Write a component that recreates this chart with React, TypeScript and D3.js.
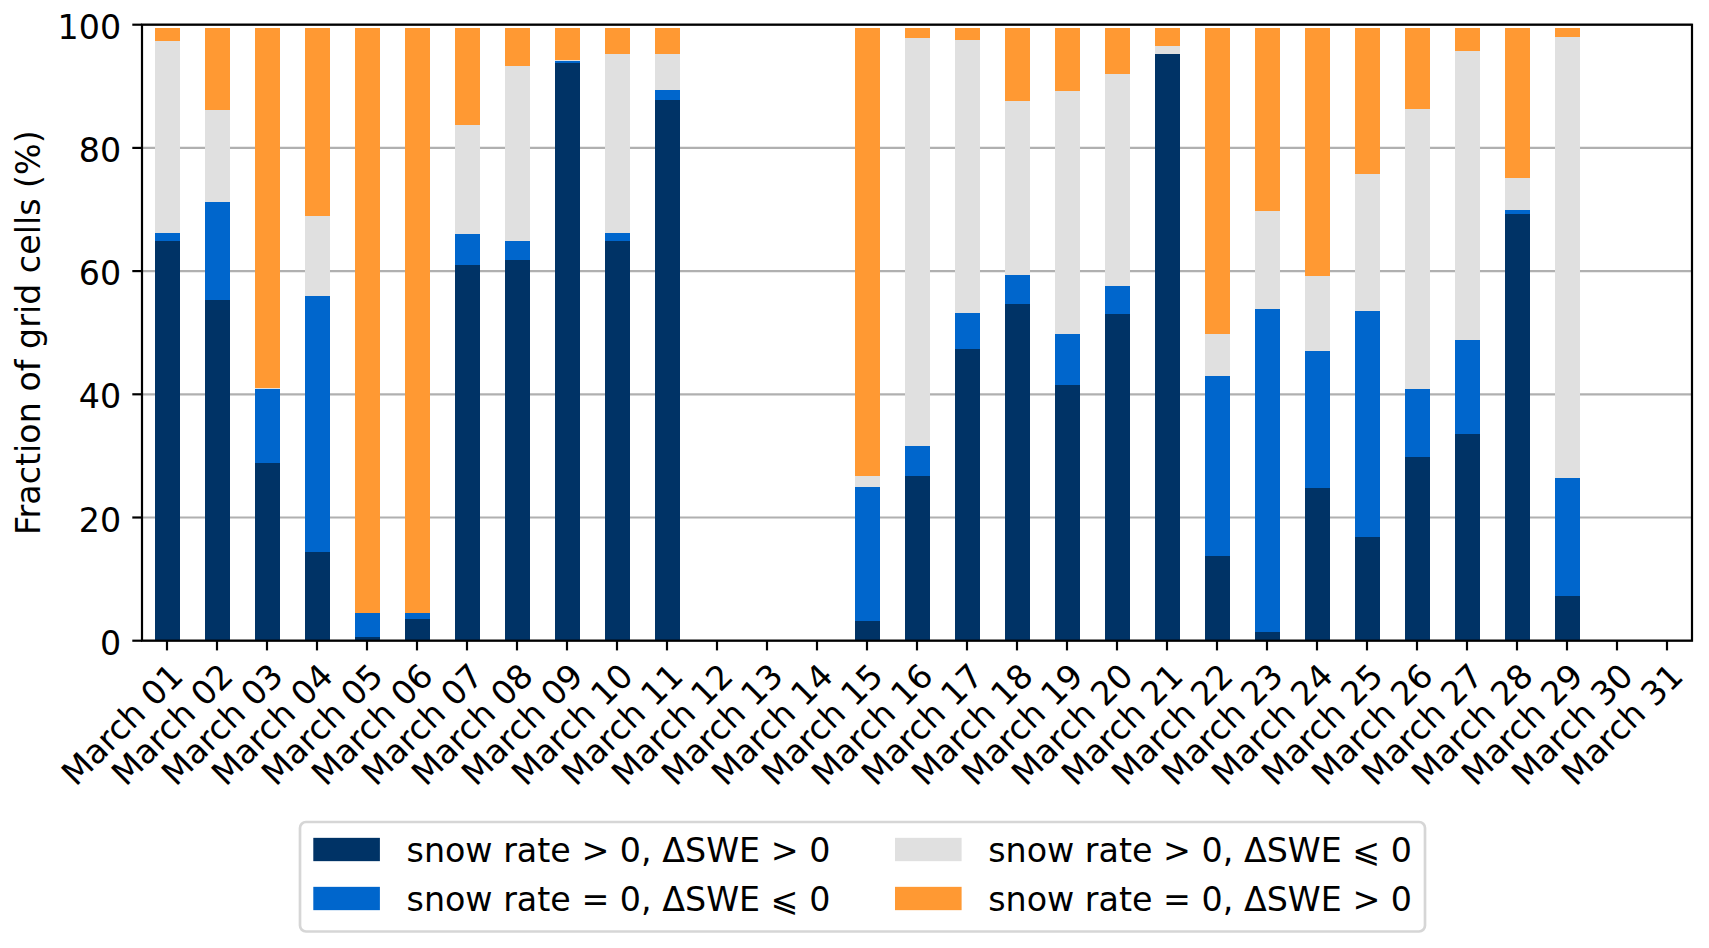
import React from "react";
import * as d3 from "d3";

const days = [
  "March 01", "March 02", "March 03", "March 04", "March 05", "March 06", "March 07", "March 08",
  "March 09", "March 10", "March 11", "March 12", "March 13", "March 14", "March 15", "March 16",
  "March 17", "March 18", "March 19", "March 20", "March 21", "March 22", "March 23", "March 24",
  "March 25", "March 26", "March 27", "March 28", "March 29", "March 30", "March 31",
];

// snow rate > 0, ΔSWE > 0
const snowPosSwePos = [
  64.85, 55.27, 28.79, 14.46, 0.54, 3.57, 60.92, 61.76, 93.83, 64.85, 87.79, null, null, null,
  3.25, 26.67, 47.3, 54.63, 41.45, 52.96, 95.24, 13.82, 1.46, 24.87, 16.9, 29.76, 33.48, 69.22, 7.33,
  null, null,
];
// snow rate = 0, ΔSWE ⩽ 0
const snowZeroSweNeg = [
  1.28, 15.94, 12.02, 41.45, 4.0, 0.86, 5.08, 3.09, 0.26, 1.28, 1.61, null, null, null,
  21.75, 5.01, 5.85, 4.69, 8.42, 4.56, 0.0, 29.11, 52.33, 22.24, 36.57, 11.05, 15.3, 0.64, 19.15,
  null, null,
];
// snow rate > 0, ΔSWE ⩽ 0
const snowPosSweNeg = [
  31.3, 14.91, 0.26, 12.98, 0.0, 0.12, 17.68, 28.47, 0.13, 29.11, 5.84, null, null, null,
  1.67, 66.13, 44.34, 28.28, 39.33, 34.45, 1.29, 6.94, 15.94, 12.02, 22.24, 45.5, 46.91, 5.2, 71.53,
  null, null,
];
// snow rate = 0, ΔSWE > 0
const snowZeroSwePos = [
  2.07, 13.38, 58.43, 30.61, 94.96, 94.95, 15.82, 6.18, 5.28, 4.26, 4.26, null, null, null,
  72.83, 1.69, 2.01, 11.9, 10.3, 7.53, 2.97, 49.63, 29.77, 40.37, 23.79, 13.19, 3.81, 24.44, 1.49,
  null, null,
];

const seriesKeys = ["snowPosSwePos", "snowZeroSweNeg", "snowPosSweNeg", "snowZeroSwePos"];
const seriesLabels = [
  "snow rate > 0, \u0394SWE > 0",
  "snow rate = 0, \u0394SWE \u2A7D 0",
  "snow rate > 0, \u0394SWE \u2A7D 0",
  "snow rate = 0, \u0394SWE > 0",
];
const seriesColors = ["#003366", "#0066cc", "#e0e0e0", "#ff9933"];
const yTicks = [0, 20, 40, 60, 80, 100];
const yLabel = "Fraction of grid cells (%)";

const FONT = "'DejaVu Sans', sans-serif";

export default function App() {
  const W = 1709;
  const H = 948;
  const left = 142;
  const right = 1692;
  const top = 24.7;
  const bottom = 640.7;
  const fs = 33.3;
  const tickLen = 9.7;
  const pad = 9.7;
  const lw = 2.2;

  const x = d3.scaleBand<string>().domain(days).range([left, right]).paddingInner(0.5).paddingOuter(0.25);
  const y = d3.scaleLinear().domain([0, 100]).range([bottom, top]);

  const rows = days.map((d, i) => ({
    day: d,
    snowPosSwePos: snowPosSwePos[i] ?? 0,
    snowZeroSweNeg: snowZeroSweNeg[i] ?? 0,
    snowPosSweNeg: snowPosSweNeg[i] ?? 0,
    snowZeroSwePos: snowZeroSwePos[i] ?? 0,
  }));
  const stacked = d3.stack<any>().keys(seriesKeys)(rows);

  // legend layout
  const legBox = { x: 300, y: 822, w: 1125, h: 109.5 };
  const colX = [313.3, 895];
  const rowY = [849.5, 898.5];
  const handleW = 2 * fs;
  const handleH = 0.7 * fs;
  const textPad = 0.8 * fs;
  const legendItems = [
    { i: 0, c: 0, r: 0 },
    { i: 1, c: 0, r: 1 },
    { i: 2, c: 1, r: 0 },
    { i: 3, c: 1, r: 1 },
  ];

  return (
    <svg
      width={W}
      height={H}
      viewBox={`0 0 ${W} ${H}`}
      style={{ position: "absolute", left: 0, top: 0, background: "#fff" }}
      fontFamily={FONT}
    >
      <rect x={0} y={0} width={W} height={H} fill="#fff" />
      {/* grid */}
      {yTicks.map((t) => (
        <line key={"g" + t} x1={left} x2={right} y1={y(t)} y2={y(t)} stroke="#b0b0b0" strokeWidth={lw} />
      ))}
      {/* bars */}
      {stacked.map((s, si) => (
        <g key={s.key} fill={seriesColors[si]}>
          {s.map((d, di) => {
            const h = y(d[0]) - y(d[1]);
            if (!(h > 0)) return null;
            return (
              <rect
                key={di}
                x={x(days[di])}
                y={y(d[1])}
                width={x.bandwidth()}
                height={h}
                shapeRendering="crispEdges"
              />
            );
          })}
        </g>
      ))}
      {/* spines */}
      <rect x={left} y={top} width={right - left} height={bottom - top} fill="none" stroke="#000" strokeWidth={lw} />
      {/* y ticks */}
      {yTicks.map((t) => (
        <g key={"yt" + t}>
          <line x1={left - tickLen} x2={left} y1={y(t)} y2={y(t)} stroke="#000" strokeWidth={lw} />
          <text x={left - tickLen - pad - 1.5} y={y(t) + 14} fontSize={fs} textAnchor="end" fill="#000">
            {t}
          </text>
        </g>
      ))}
      {/* x ticks */}
      {days.map((d) => {
        const cx = (x(d) as number) + x.bandwidth() / 2;
        return (
          <g key={"xt" + d}>
            <line x1={cx} x2={cx} y1={bottom} y2={bottom + tickLen} stroke="#000" strokeWidth={lw} />
            <text
              transform={`translate(${cx},${bottom + tickLen + pad}) rotate(-45)`}
              x={0}
              y={0.76 * fs}
              fontSize={fs}
              textAnchor="end"
              fill="#000"
            >
              {d}
            </text>
          </g>
        );
      })}
      {/* y label */}
      <text
        transform={`translate(40,${(top + bottom) / 2}) rotate(-90)`}
        fontSize={fs}
        textAnchor="middle"
        fill="#000"
      >
        {yLabel}
      </text>
      {/* legend */}
      <rect
        x={legBox.x}
        y={legBox.y}
        width={legBox.w}
        height={legBox.h}
        rx={6}
        fill="#fff"
        fillOpacity={0.8}
        stroke="#d6d6d6"
        strokeWidth={2.7}
      />
      {legendItems.map((it) => (
        <g key={"leg" + it.i}>
          <rect
            x={colX[it.c]}
            y={rowY[it.r] - handleH / 2}
            width={handleW}
            height={handleH}
            fill={seriesColors[it.i]}
          />
          <text x={colX[it.c] + handleW + textPad} y={rowY[it.r] + 12.5} fontSize={fs} fill="#000">
            {seriesLabels[it.i]}
          </text>
        </g>
      ))}
    </svg>
  );
}
